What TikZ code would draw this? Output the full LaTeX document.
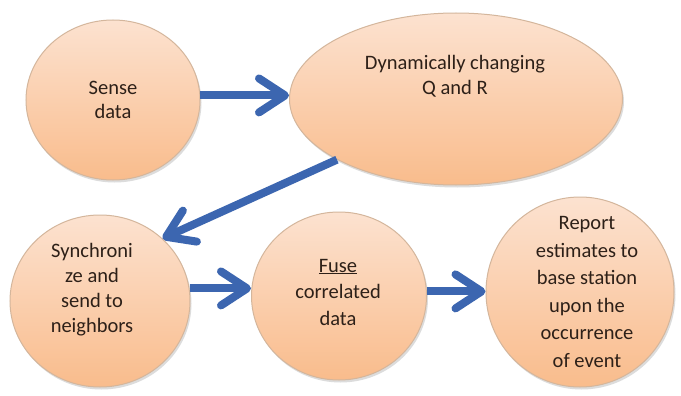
\documentclass[tikz,border=0pt]{standalone}
\usepackage{fontspec}
\setmainfont{Carlito}
\usetikzlibrary{shapes.geometric,arrows.meta,shadows}
\definecolor{peachtop}{RGB}{252,226,208}
\definecolor{peachbot}{RGB}{249,188,140}
\definecolor{peachline}{RGB}{212,182,156}
\definecolor{flowblue}{RGB}{60,102,176}
\definecolor{txt}{RGB}{45,32,24}
\begin{document}
\begin{tikzpicture}[x=1pt,y=-1pt,
  bubble/.style={ellipse, draw=peachline, line width=1pt, top color=peachtop, bottom color=peachbot, inner sep=0pt,
    drop shadow={shadow xshift=1.5pt, shadow yshift=-2.5pt, fill=black!30, opacity=0.45}},
  lbl/.style={text=txt, align=center, inner sep=0pt},
  flow/.style={draw=flowblue, line width=8pt, -{Straight Barb[length=26pt,width=34pt,round]}}
]
\useasboundingbox (0,0) rectangle (681,396);
\fill[white] (0,0) rectangle (681,396);

\node[bubble, minimum width=174pt, minimum height=160pt] (sense) at (113,100) {};
\node[bubble, minimum width=333pt, minimum height=172pt] (dyn) at (456,99) {};
\node[bubble, minimum width=180pt, minimum height=172pt] (sync) at (100,301) {};
\node[bubble, minimum width=175pt, minimum height=168pt] (fuse) at (339,296) {};
\node[bubble, minimum width=188pt, minimum height=190pt] (report) at (580,292) {};

\node[lbl, font=\fontsize{20.5}{24}\selectfont] (sensetxt) at (113,100) {Sense\\data};
\node[lbl, font=\fontsize{20.5}{25}\selectfont] (dyntxt) at (455,76) {Dynamically changing\\Q and R};
\node[lbl, font=\fontsize{20.5}{25}\selectfont] (synctxt) at (92,290) {Synchroni\\ze and\\send to\\neighbors};
\node[lbl, font=\fontsize{20.5}{26.5}\selectfont] (fusetxt) at (338,292) {\underline{Fuse}\\correlated\\data};
\node[lbl, font=\fontsize{20.5}{27.5}\selectfont] (reporttxt) at (587,292) {Report\\estimates to\\base station\\upon the\\occurrence\\of event};

\draw[flow] (sense.3) -- (dyn.west |- sense.3);
\draw[flow] (dyn.207) -- (sync.45);
\draw[flow] (sync.8) -- (fuse.west |- sync.8);
\draw[flow] (fuse.3) -- (report.west |- fuse.3);
\end{tikzpicture}
\end{document}
